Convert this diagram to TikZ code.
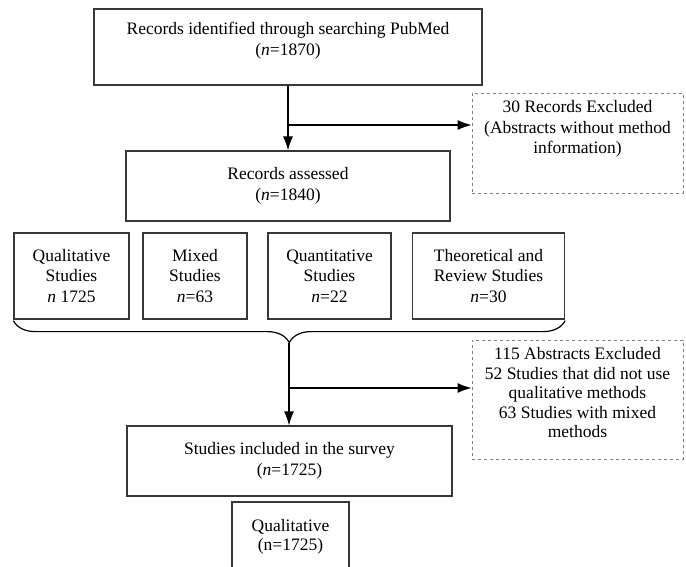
\documentclass[tikz,border=0pt]{standalone}
\usepackage{fontspec}
\setmainfont{Liberation Serif}
\usetikzlibrary{arrows.meta,decorations.pathreplacing}

\begin{document}
\begin{tikzpicture}[x=1pt,y=-1pt, >={Latex[length=14pt,width=10pt]}]
      \tikzset{box/.style={draw=black!78, line width=1.2pt, align=center, inner sep=0pt, font=\fontsize{17.5}{20.5}\selectfont},
               exbox/.style={box, draw=black!50, line width=0.9pt, dashed}}
      \clip (0,0) rectangle (686,566);
%% Boxes
      	\node[box, minimum width=388, minimum height=76] (search) at (288,47) {Records identified through searching PubMed\\[1pt](\textit{n}=1870)\\[-4pt]};
      	\node[exbox, minimum width=211, minimum height=100, label={[anchor=north, align=center, inner sep=0pt, yshift=-8pt, font=\fontsize{17.5}{20.5}\selectfont]north:{30 Records Excluded\\(Abstracts without method\\information)}}] (excl1) at (577.5,143) {};
      	\node[box, minimum width=324, minimum height=70] (assessed) at (288,186) {Records assessed\\(\textit{n}=1840)};
      	\node[box, minimum width=115, minimum height=86] (qualit) at (71.5,276) {Qualitative\\Studies\\\textit{n} 1725};
      	\node[box, minimum width=104, minimum height=86] (mixed) at (195,276) {Mixed\\Studies\\\textit{n}=63};
      	\node[box, minimum width=123, minimum height=86] (quant) at (329.5,276) {Quantitative\\Studies\\\textit{n}=22};
      	\node[box, minimum width=152, minimum height=86] (theory) at (488.5,276) {Theoretical and\\Review Studies\\\textit{n}=30};
      	\node[exbox, minimum width=211, minimum height=119, label={[anchor=north, align=center, inner sep=0pt, yshift=-8pt, font=\fontsize{17.5}{19.5}\selectfont]north:{115 Abstracts Excluded\\52 Studies that did not use\\qualitative methods\\63 Studies with mixed\\methods}}] (excl2) at (577.5,399.5) {};
      	\node[box, minimum width=325, minimum height=70] (included) at (289.5,461) {Studies included in the survey\\(\textit{n}=1725)};
      	\node[box, minimum width=117, minimum height=80, font=\fontsize{17.5}{18.5}\selectfont] (qualfin) at (290.5,542) {Qualitative\\(n=1725)\\[-4pt]};
%Arrows
		\coordinate (j1) at (288,125);
		\draw[line width=1.2pt, ->] (search.south) -- (assessed.north);
		\draw[line width=1.2pt, ->] (j1) -- (j1 -| excl1.west);
		\draw[line width=1.2pt, decorate, decoration={brace, mirror, amplitude=22pt}] ([yshift=-1pt]qualit.south west) -- ([yshift=-1pt]theory.south east);
		\coordinate (tip) at (289,343);
		\coordinate (j2) at (289,388);
		\draw[line width=1.2pt, ->] (tip) -- (tip |- included.north);
		\draw[line width=1.2pt, ->] (j2) -- (j2 -| excl2.west);
	\end{tikzpicture}
\end{document}
